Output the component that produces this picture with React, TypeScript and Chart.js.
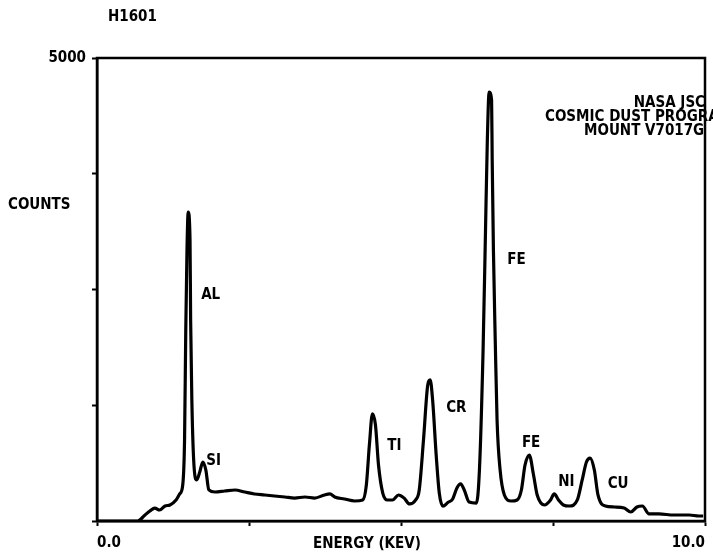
import React, { useEffect, useRef } from "react";
import { Chart, registerables } from "chart.js";

Chart.register(...registerables);

// Spectrum trace: energy (keV) and counts
const energyKeV = [
  0.0, 0.67, 0.79, 0.87, 0.95, 1.03, 1.12, 1.2, 1.3, 1.36, 1.41, 1.44, 1.46, 1.48, 1.5, 1.53, 1.54, 1.56,
  1.59, 1.64, 1.69, 1.74, 1.79, 1.84, 1.94, 2.1, 2.27, 2.43, 2.59, 2.76, 2.92, 3.09, 3.25, 3.42, 3.58, 3.74,
  3.83, 3.91, 4.07, 4.24, 4.37, 4.43, 4.48, 4.53, 4.58, 4.63, 4.7, 4.78, 4.86, 4.96, 5.05, 5.14, 5.24, 5.3,
  5.37, 5.44, 5.48, 5.52, 5.58, 5.63, 5.69, 5.77, 5.85, 5.92, 5.98, 6.04, 6.12, 6.24, 6.29, 6.35, 6.39, 6.42,
  6.45, 6.49, 6.5, 6.52, 6.55, 6.58, 6.63, 6.7, 6.81, 6.91, 6.98, 7.04, 7.11, 7.18, 7.24, 7.36, 7.46, 7.52,
  7.59, 7.67, 7.77, 7.9, 7.98, 8.05, 8.11, 8.18, 8.24, 8.36, 8.51, 8.67, 8.78, 8.88, 8.97, 9.08, 9.24, 9.49,
  9.74, 9.9, 9.97,
];
const counts = [
  0, 0, 65, 108, 140, 119, 162, 173, 227, 292, 389, 875, 2063, 2927, 3337, 3035, 2171, 1307,
  659, 443, 529, 637, 551, 335, 313, 324, 335, 313, 292, 281, 270, 259, 248, 259, 248, 281,
  292, 259, 238, 216, 227, 389, 821, 1156, 1037, 605, 302, 227, 227, 281, 248, 184, 227, 335,
  875, 1469, 1523, 1307, 700, 300, 160, 200, 238, 356, 400, 335, 205, 194, 551, 1847, 3143, 4114,
  4633, 4546, 3898, 2927, 1955, 1091, 551, 281, 216, 227, 335, 605, 713, 497, 281, 173, 227, 292,
  227, 173, 162, 227, 443, 637, 680, 551, 281, 162, 151, 140, 97, 151, 162, 76, 76, 65,
  65, 54, 54,
];

const xTickValues = [0, 2.5, 5, 7.5, 10];
const yTickValues = [0, 1250, 2500, 3750, 5000];

// Peak annotations (element name, energy keV, counts)
const peakNames = ["AL", "SI", "TI", "CR", "FE", "FE", "NI", "CU"];
const peakEnergy = [1.87, 1.92, 4.89, 5.91, 6.9, 7.14, 7.72, 8.57];
const peakCounts = [2441, 648, 810, 1220, 2819, 842, 421, 400];

const titleText = "H1601";
const yAxisTitle = "COUNTS";
const xAxisTitle = "ENERGY (KEV)";
const infoLines = ["NASA JSC", "COSMIC DUST PROGRAM", "MOUNT V7017G"];

const FONT = "'Liberation Sans Narrow', 'DejaVu Sans Condensed', sans-serif";

export default function App() {
  const ref = useRef<HTMLCanvasElement | null>(null);

  useEffect(() => {
    if (!ref.current) return;
    const textPlugin = {
      id: "texts",
      afterDraw(chart: any) {
        const ctx = chart.ctx;
        const ca = chart.chartArea;
        const xs = chart.scales.x;
        const ys = chart.scales.y;
        ctx.save();
        ctx.strokeStyle = "#000";
        ctx.lineWidth = 2.5;
        ctx.strokeRect(ca.left, ca.top, ca.right - ca.left, ca.bottom - ca.top);
        ctx.fillStyle = "#000";
        ctx.font = `bold 15px ${FONT}`;
        ctx.textBaseline = "middle";
        ctx.textAlign = "center";
        peakNames.forEach((n, i) => {
          ctx.fillText(n, xs.getPixelForValue(peakEnergy[i]), ys.getPixelForValue(peakCounts[i]));
        });
        ctx.textAlign = "left";
        ctx.fillText(titleText, 108, 17);
        ctx.fillText(yAxisTitle, 8, 205);
        ctx.textAlign = "center";
        ctx.fillText(xAxisTitle, 367, 544);
        ctx.textAlign = "right";
        ctx.fillText(infoLines[0], 705, 103);
        ctx.textAlign = "left";
        ctx.fillText(infoLines[1], 545, 117);
        ctx.fillText(infoLines[2], 584, 131);
        ctx.restore();
      },
    };

    const chart = new Chart(ref.current, {
      type: "line",
      data: {
        datasets: [
          {
            data: energyKeV.map((e, i) => ({ x: e, y: counts[i] })),
            borderColor: "#000",
            borderWidth: 3.2,
            pointRadius: 0,
            cubicInterpolationMode: "monotone",
            fill: false,
          },
        ],
      },
      options: {
        animation: false,
        responsive: false,
        layout: { padding: { left: 0, top: 58, right: 6, bottom: 0 } },
        plugins: { legend: { display: false }, tooltip: { enabled: false }, title: { display: false } },
        scales: {
          x: {
            type: "linear",
            min: 0,
            max: 10,
            afterBuildTicks: (s: any) => {
              s.ticks = xTickValues.map((v) => ({ value: v }));
            },
            afterFit: (s: any) => {
              s.height = 33;
            },
            ticks: {
              autoSkip: false,
              maxRotation: 0,
              align: "inner",
              padding: 8,
              color: "#000",
              font: { family: FONT, size: 15, weight: "bold" },
              callback: (v: any) => (v === 0 ? "0.0" : v === 10 ? "10.0" : ""),
            },
            grid: { drawOnChartArea: false, color: "#000", tickLength: 5, tickWidth: 2 },
            border: { color: "#000", width: 2.5 },
          },
          y: {
            type: "linear",
            min: 0,
            max: 5000,
            afterBuildTicks: (s: any) => {
              s.ticks = yTickValues.map((v) => ({ value: v }));
            },
            afterFit: (s: any) => {
              s.width = 97;
            },
            ticks: {
              autoSkip: false,
              padding: 6,
              color: "#000",
              font: { family: FONT, size: 15, weight: "bold" },
              callback: (v: any) => (v === 5000 ? "5000" : ""),
            },
            grid: { drawOnChartArea: false, color: "#000", tickLength: 5, tickWidth: 2 },
            border: { color: "#000", width: 2.5 },
          },
        },
      },
      plugins: [textPlugin],
    });
    return () => chart.destroy();
  }, []);

  return (
    <div style={{ position: "fixed", left: 0, top: 0, width: 713, height: 554, background: "#fff" }}>
      <canvas ref={ref} width={713} height={554} style={{ width: 713, height: 554, display: "block" }} />
    </div>
  );
}
